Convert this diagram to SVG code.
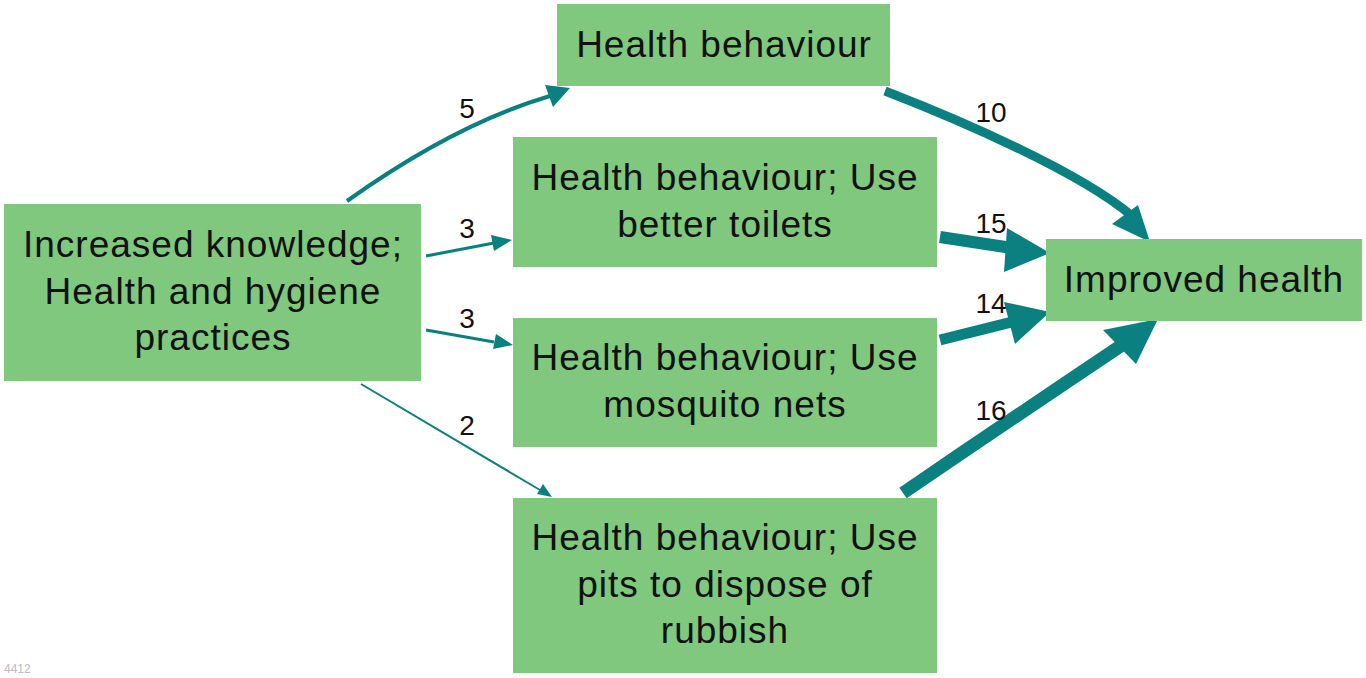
<svg xmlns="http://www.w3.org/2000/svg" width="1366" height="678" viewBox="0 0 1366 678">
<style>
.box{fill:#80c87e}
.t{font-family:"Liberation Sans",Arial,sans-serif;font-size:37px;letter-spacing:1px;fill:#111;text-anchor:middle}
.lbl{font-family:"Liberation Sans",Arial,sans-serif;font-size:28px;fill:#111;text-anchor:middle}
.e{fill:none;stroke:#0a8080}
.h{fill:#0a8080}
.id{font-family:"Liberation Sans",Arial,sans-serif;font-size:12px;fill:#bbb}
</style>
<rect width="1366" height="678" fill="#fff"/>
<g id="connectors">
  <path class="e" stroke-width="4" d="M347,201 Q455,124 550,96"/>
  <path class="h" d="M570,88 L545,85 L553,107 Z"/>
  <path class="e" stroke-width="3" d="M426,256 L494,243"/>
  <path class="h" d="M512,240 L491,235 L494,251 Z"/>
  <path class="e" stroke-width="3" d="M426,330 L494,342"/>
  <path class="h" d="M513,345 L496,334 L493,349 Z"/>
  <path class="e" stroke-width="2" d="M361,384 L540,490"/>
  <path class="h" d="M552,497 L543,484 L537,494 Z"/>
  <path class="e" stroke-width="9" d="M885,91 C960,120 1080,172 1132,216"/>
  <path class="h" d="M1150,242 L1112,224 L1138,205 Z"/>
  <path class="e" stroke-width="12" d="M940,237 L1012,248"/>
  <path class="h" d="M1050,253 L1007,228 L1004,272 Z"/>
  <path class="e" stroke-width="11" d="M940,340 L1012,322"/>
  <path class="h" d="M1050,312 L1004,302 L1015,344 Z"/>
  <path class="e" stroke-width="13" d="M903,493 Q1010,420 1125,343"/>
  <path class="h" d="M1158,319 L1103,330 L1136,364 Z"/>
  <text class="lbl" x="467" y="118">5</text>
  <text class="lbl" x="467" y="238">3</text>
  <text class="lbl" x="467" y="328">3</text>
  <text class="lbl" x="467" y="435">2</text>
  <text class="lbl" x="991" y="122">10</text>
  <text class="lbl" x="991" y="233">15</text>
  <text class="lbl" x="991" y="313">14</text>
  <text class="lbl" x="991" y="420">16</text>
</g>
<g id="n_start">
  <rect class="box" x="4" y="204" width="417" height="177"/>
  <text class="t" x="213" y="257">Increased knowledge;</text>
  <text class="t" x="213" y="304">Health and hygiene</text>
  <text class="t" x="213" y="350">practices</text>
</g>
<g id="n_hb">
  <rect class="box" x="557" y="4" width="333" height="82"/>
  <text class="t" x="724" y="57">Health behaviour</text>
</g>
<g id="n_toilets">
  <rect class="box" x="513" y="137" width="424" height="130"/>
  <text class="t" x="725" y="190">Health behaviour; Use</text>
  <text class="t" x="725" y="237">better toilets</text>
</g>
<g id="n_nets">
  <rect class="box" x="513" y="318" width="424" height="129"/>
  <text class="t" x="725" y="370">Health behaviour; Use</text>
  <text class="t" x="725" y="417">mosquito nets</text>
</g>
<g id="n_pits">
  <rect class="box" x="513" y="498" width="424" height="175"/>
  <text class="t" x="725" y="550">Health behaviour; Use</text>
  <text class="t" x="725" y="597">pits to dispose of</text>
  <text class="t" x="725" y="643">rubbish</text>
</g>
<g id="n_health">
  <rect class="box" x="1046" y="239" width="316" height="82"/>
  <text class="t" x="1204" y="292">Improved health</text>
</g>
<text class="id" x="4" y="673">4412</text>
</svg>
